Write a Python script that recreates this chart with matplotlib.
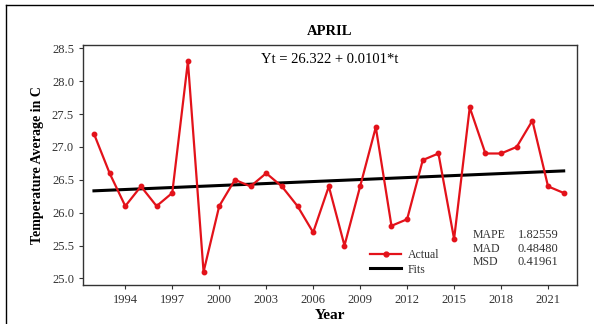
import numpy as np
import matplotlib
matplotlib.use("Agg")
import matplotlib.pyplot as plt
from matplotlib.lines import Line2D

# data
years = list(range(1992, 2023))
actual = [27.2, 26.6, 26.1, 26.4, 26.1, 26.3, 28.3, 25.1, 26.1, 26.5,
          26.4, 26.6, 26.4, 26.1, 25.7, 26.4, 25.5, 26.4, 27.3, 25.8,
          25.9, 26.8, 26.9, 25.6, 27.6, 26.9, 26.9, 27.0, 27.4, 26.4, 26.3]
intercept = 26.322
slope = 0.0101
xtick_years = [1994, 1997, 2000, 2003, 2006, 2009, 2012, 2015, 2018, 2021]
ytick_vals = [25.0, 25.5, 26.0, 26.5, 27.0, 27.5, 28.0, 28.5]
stat_names = ["MAPE", "MAD", "MSD"]
stat_vals = ["1.82559", "0.48480", "0.41961"]

t = np.arange(1, len(years) + 1)
fits = intercept + slope * t

plt.rcParams['font.family'] = ['Liberation Serif', 'DejaVu Serif']

fig = plt.figure(figsize=(5.94, 3.24), dpi=100)
ax = fig.add_axes([83/594, 1 - 285/324, (577-83)/594, (285-45)/324])

red = "#e3121a"
ax.plot(years, actual, color=red, lw=1.6, marker="o", ms=3.2, zorder=3)
ax.plot(years, fits, color="black", lw=2.2, zorder=2)

ax.set_xlim(1991.3, 2022.85)
ax.set_ylim(24.9, 28.55)
ax.set_xticks(xtick_years)
ax.set_yticks(ytick_vals)
ax.set_yticklabels(["%.1f" % v for v in ytick_vals])
ax.tick_params(labelsize=9, length=3, width=0.8, color="#333333", labelcolor="#333333")
for s in ax.spines.values():
    s.set_linewidth(1.0)
    s.set_color("#333333")

ax.set_title("APRIL", fontsize=10.5, fontweight="bold", pad=7)
ax.set_xlabel("Year", fontsize=11, fontweight="bold", labelpad=2)
ax.set_ylabel("Temperature Average in C", fontsize=10, fontweight="bold", labelpad=6)

ax.text(0.5, 0.94, "Yt = %.3f + %.4f*t" % (intercept, slope), transform=ax.transAxes,
        ha="center", va="center", fontsize=10.5)

handles = [Line2D([], [], color=red, lw=1.6, marker="o", ms=3.5),
           Line2D([], [], color="black", lw=2.2)]
leg = ax.legend(handles, ["Actual", "Fits"], loc="lower left",
                bbox_to_anchor=(0.56, -0.005), frameon=False, fontsize=8.5,
                handlelength=2.6, labelspacing=0.22, handletextpad=0.6)
for txt in leg.get_texts():
    txt.set_color("#333333")

for i, (n, v) in enumerate(zip(stat_names, stat_vals)):
    yy = 0.21 - i * 0.058
    ax.text(0.789, yy, n, transform=ax.transAxes, fontsize=8.5, color="#333333", va="center")
    ax.text(0.88, yy, v, transform=ax.transAxes, fontsize=9, color="#333333", va="center")

# outer frame
fig.add_artist(Line2D([6/594, 593/594], [1 - 5/324, 1 - 5/324], color="black", lw=1.0,
                      transform=fig.transFigure))
fig.add_artist(Line2D([6/594, 6/594], [0, 1 - 5/324], color="black", lw=1.0,
                      transform=fig.transFigure))

fig.savefig("out.png", dpi=100)
